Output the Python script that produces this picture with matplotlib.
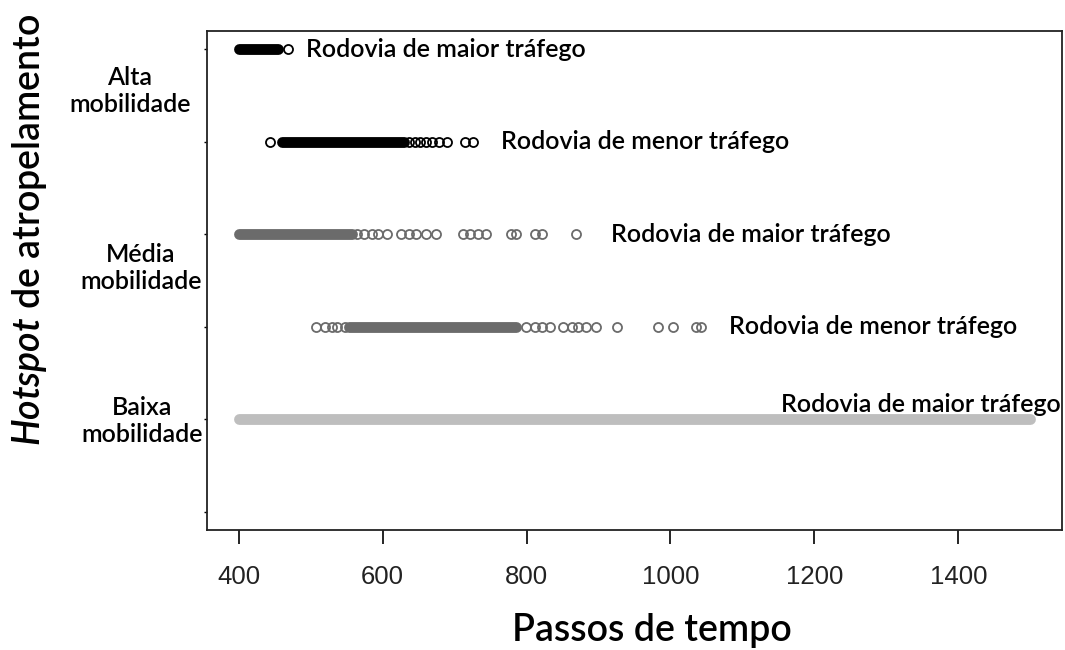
import matplotlib.pyplot as plt

plt.rcParams['font.family'] = ['Lato', 'DejaVu Sans']
plt.rcParams['mathtext.fontset'] = 'custom'
plt.rcParams['mathtext.it'] = 'Lato:italic:semibold'
plt.rcParams['mathtext.rm'] = 'Lato:semibold'

# passos de tempo com atropelamento em cada hotspot
# faixa = trecho em que há registro a cada passo; pts = registros isolados
alta_maior_faixa = (400, 454)
alta_maior_pts = [468]

alta_menor_faixa = (460, 630)
alta_menor_pts = [443, 636, 645, 652, 660, 668, 678, 689, 715, 726]

media_maior_faixa = (400, 557)
media_maior_pts = [564, 574, 585, 594, 606, 625, 636, 647, 660, 674,
                   712, 722, 733, 743, 778, 785, 812, 821, 869]

media_menor_faixa = (553, 786)
media_menor_pts = [508, 520, 530, 537, 548, 799, 812, 821, 833, 851,
                   863, 872, 883, 896, 925, 982, 1004, 1035, 1042]

baixa_maior_faixa = (400, 1500)
baixa_maior_pts = []

faixas = [alta_maior_faixa, alta_menor_faixa, media_maior_faixa,
          media_menor_faixa, baixa_maior_faixa]
pontos = [alta_maior_pts, alta_menor_pts, media_maior_pts,
          media_menor_pts, baixa_maior_pts]
rotulos = ['Rodovia de maior tráfego', 'Rodovia de menor tráfego',
           'Rodovia de maior tráfego', 'Rodovia de menor tráfego',
           'Rodovia de maior tráfego']
pos_rotulo = [493, 765, 917, 1081, 1153]
cores = ['black', 'black', '#6b6b6b', '#6b6b6b', '#bebebe']
linhas_y = [6, 5, 4, 3, 2]

grupos = ['Alta\nmobilidade', 'Média\nmobilidade', 'Baixa\nmobilidade']
xticks = [400, 600, 800, 1000, 1200, 1400]

fig = plt.figure(figsize=(10.65, 6.5), dpi=100)
ax = fig.add_axes([207 / 1065, 1 - 530 / 650, 855 / 1065, 499 / 650])

ms, mew = 6.5, 1.3
for faixa, pts, cor, y, txt, xt in zip(faixas, pontos, cores, linhas_y,
                                       rotulos, pos_rotulo):
    ax.plot(faixa, [y, y], color=cor, lw=ms + mew, solid_capstyle='round')
    if pts:
        ax.plot(pts, [y] * len(pts), 'o', ms=ms, mew=mew, mfc='none',
                mec=cor, ls='none')
    ty = y + 0.16 if y == 2 else y
    ax.text(xt, ty, txt, va='center', ha='left', fontsize=18,
            fontweight='semibold')

ax.set_xlim(356, 1544)
ax.set_ylim(0.8, 6.2)
ax.set_xticks(xticks)
ax.set_xticklabels([str(t) for t in xticks], fontfamily='Liberation Sans',
                   fontsize=18.5, color='#222222')
ax.set_yticks([1, 2, 3, 4, 5, 6])
ax.set_yticklabels([])
ax.tick_params(axis='x', length=10, width=1.2, pad=15)
ax.tick_params(axis='y', length=2, width=1)
for s in ax.spines.values():
    s.set_linewidth(1.3)
    s.set_color('#222222')

# rótulos dos grupos de mobilidade
fig.text(130 / 1065, 1 - 91 / 650, grupos[0], ha='center', va='center',
         fontsize=18, fontweight='semibold', linespacing=1.2)
fig.text(141 / 1065, 1 - 268 / 650, grupos[1], ha='center', va='center',
         fontsize=18, fontweight='semibold', linespacing=1.2)
fig.text(142 / 1065, 1 - 421 / 650, grupos[2], ha='center', va='center',
         fontsize=18, fontweight='semibold', linespacing=1.2)

fig.text(30 / 1065, 1 - 230 / 650, r'$\mathit{Hotspot}$ de atropelamento',
         rotation=90, ha='center', va='center', fontsize=27,
         fontweight='semibold')
fig.text(652 / 1065, 1 - 630 / 650, 'Passos de tempo', ha='center',
         va='center', fontsize=27, fontweight='semibold')

fig.savefig('out.png', dpi=100)
